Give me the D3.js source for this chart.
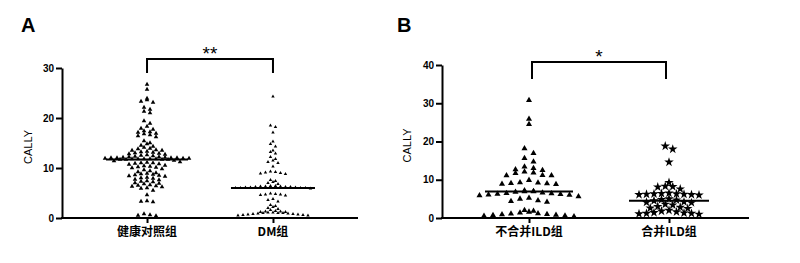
<!DOCTYPE html>
<html><head><meta charset="utf-8">
<script src="https://cdn.jsdelivr.net/npm/d3@7"></script>
<style>
html,body{margin:0;padding:0;background:#fff;}
svg{display:block;}
.tick text{font-family:Arial,"Liberation Sans",sans-serif;font-weight:bold;font-size:10px;fill:#000;}
</style></head>
<body><div id="chart"></div>
<script>
// ---- Data ----
const catsA = ["健康对照组", "DM组"];
const healthyVals = [26.7,25.7,23.9,23.6,23.3,23.1,22.1,21.7,21.3,21.0,19.4,18.9,18.3,17.9,17.7,17.4,17.2,17.1,16.9,16.8,16.6,16.4,16.2,15.4,15.0,14.8,14.5,14.3,14.1,13.9,13.8,13.6,13.5,13.5,13.3,13.2,13.1,13.0,12.9,12.8,12.7,12.6,12.5,12.4,12.3,12.2,12.2,12.1,12.1,12.0,12.0,12.0,12.0,11.9,11.9,11.9,11.8,11.8,11.8,11.8,11.8,11.7,11.7,11.7,11.7,11.5,11.4,11.2,11.1,11.0,11.0,10.9,10.8,10.7,10.5,10.4,10.3,10.2,10.1,10.0,9.8,9.6,9.4,9.2,9.0,8.9,8.8,8.7,8.6,8.5,8.4,8.3,8.1,8.0,7.9,7.7,7.6,7.4,7.3,7.2,7.0,6.9,6.8,6.6,6.5,6.4,6.3,6.2,6.0,5.9,5.5,4.6,3.4,3.3,3.2,0.8,0.6,0.5,0.4];
const dmVals = [24.3,18.5,18.2,17.1,15.3,14.8,14.3,13.5,13.2,12.9,12.2,11.8,11.5,11.2,11.0,10.3,9.3,9.2,9.1,9.0,8.9,8.8,7.6,7.4,7.2,7.0,6.8,6.4,6.4,6.3,6.3,6.3,6.2,6.2,6.2,6.1,6.1,6.1,6.0,6.0,6.0,6.0,5.9,4.9,4.8,4.7,4.7,4.6,4.5,3.8,3.6,3.3,2.6,2.4,2.2,2.0,1.8,1.6,1.4,1.3,1.3,1.2,1.2,1.1,1.1,1.0,1.0,1.0,0.9,0.9,0.8,0.8,0.7,0.7,0.6,0.6,0.5,0.5];
const mediansA = [11.7, 6.0];
const ticksA = [0, 10, 20, 30];
const sigA = "**";

const catsB = ["不合并ILD组", "合并ILD组"];
const noIldVals = [30.8,25.9,24.5,18.2,16.9,15.6,14.7,13.4,13.0,12.7,12.5,12.1,11.8,11.7,11.2,11.1,11.1,9.9,9.3,9.2,9.1,9.0,8.9,8.8,7.2,7.0,6.9,6.9,6.8,6.6,6.5,6.4,6.3,6.2,6.1,6.0,5.9,5.6,5.2,5.0,4.6,4.4,4.2,2.0,1.8,1.6,1.4,1.2,1.1,1.0,0.9,0.8,0.7,0.6,0.5,0.4];
const ildVals = [18.8,18.0,14.6,9.3,8.3,8.2,8.1,7.6,6.5,6.4,6.3,6.3,6.2,6.2,6.1,6.1,6.0,5.0,4.8,4.7,4.5,4.2,4.1,4.0,3.6,3.4,3.0,2.8,2.6,2.5,2.0,1.8,1.6,1.4,1.3,1.2,1.2,1.1,1.0];
const mediansB = [6.9, 4.5];
const ticksB = [0, 10, 20, 30, 40];
const sigB = "*";

// ---- Drawing ----
const W = 800, H = 263;
const svg = d3.select("#chart").append("svg").attr("width", W).attr("height", H);
const FONT = "Arial,'Liberation Sans',sans-serif";

function swarm(values, y, binPx, spacing) {
  const sorted = values.slice().sort((a, b) => a - b);
  const rows = []; let cur = null;
  for (const v of sorted) {
    const py = y(v);
    if (cur && cur.start - py < binPx) cur.items.push(v);
    else { cur = { start: py, items: [v] }; rows.push(cur); }
  }
  const out = [];
  rows.forEach(r => {
    const n = r.items.length;
    const offs = [];
    for (let i = 0; i < n; i++) offs.push((i - (n - 1) / 2) * spacing);
    offs.sort((a, b) => Math.abs(a) - Math.abs(b) || a - b);
    r.items.slice().sort((a,b)=>b-a).forEach((v, i) => out.push({ v, dx: offs[i] }));
  });
  return out;
}

function panel(cfg) {
  const g = svg.append("g");
  const x = d3.scalePoint().domain(cfg.cats).range(cfg.xr).padding(cfg.pad);
  const y = d3.scaleLinear().domain([0, cfg.ymax]).range([cfg.y0, cfg.y1]);

  const ya = g.append("g").attr("transform", `translate(${cfg.x0},0)`)
    .call(d3.axisLeft(y).tickValues(cfg.ticks).tickSize(6).tickPadding(2).tickSizeOuter(0));
  ya.select(".domain").attr("stroke", "#000").attr("stroke-width", 2);
  ya.selectAll(".tick line").attr("stroke", "#000").attr("stroke-width", 2);
  const xa = g.append("g").attr("transform", `translate(0,${cfg.y0})`)
    .call(d3.axisBottom(x).tickSize(5).tickSizeOuter(0).tickFormat(""));
  xa.select(".domain").attr("stroke", "#000").attr("stroke-width", 2).attr("d", `M${cfg.x0 - 1},0H${cfg.x1}`);
  xa.selectAll(".tick line").attr("stroke", "#000").attr("stroke-width", 2);

  g.selectAll(".cat").data(cfg.cats).enter().append("text")
    .attr("x", d => x(d)).attr("y", cfg.y0 + 18).attr("text-anchor", "middle")
    .attr("font-family", "'Noto Sans CJK SC',sans-serif").attr("font-weight", "bold")
    .attr("font-size", 12).text(d => d);

  g.append("text").attr("transform", `translate(${cfg.ylabX},${(cfg.y0 + cfg.y1) / 2 + 4}) rotate(-90)`)
    .attr("text-anchor", "middle").attr("font-family", FONT).attr("font-size", 11).text("CALLY");

  g.append("text").attr("x", cfg.letterX).attr("y", 32).attr("font-family", FONT)
    .attr("font-weight", "bold").attr("font-size", 20).text(cfg.letter);

  cfg.series.forEach((s, i) => {
    const pts = swarm(s.vals, y, s.bin, s.spacing);
    const sym = d3.symbol().type(s.type).size(s.size);
    g.append("g").selectAll("path").data(pts).enter().append("path")
      .attr("d", sym)
      .attr("transform", d => `translate(${x(cfg.cats[i]) + d.dx},${y(d.v)})`)
      .attr("fill", "#000");
    g.append("line").attr("x1", x(cfg.cats[i]) - s.mw).attr("x2", x(cfg.cats[i]) + s.mw)
      .attr("y1", y(cfg.medians[i])).attr("y2", y(cfg.medians[i]))
      .attr("stroke", "#000").attr("stroke-width", 2);
  });

  const bx1 = x(cfg.cats[0]) + cfg.bin, bx2 = x(cfg.cats[1]) - cfg.bin;
  g.append("path").attr("d", `M${bx1},${cfg.bBot}V${cfg.bTop}H${bx2}V${cfg.bBot}`)
    .attr("fill", "none").attr("stroke", "#000").attr("stroke-width", 2);
  g.append("text").attr("x", (bx1 + bx2) / 2).attr("y", cfg.bTop + 1).attr("text-anchor", "middle")
    .attr("font-family", FONT).attr("font-size", 19).text(cfg.sig);
}

panel({
  cats: catsA, x0: 62, x1: 358, xr: [62, 358], pad: 0.675, ymax: 30, y0: 218, y1: 68, ticks: ticksA,
  medians: mediansA, ylabX: 32, letter: "A", letterX: 21, sig: sigA,
  bTop: 59, bBot: 73, bin: 0,
  series: [
    { vals: healthyVals, type: d3.symbolTriangle, size: 9, bin: 3.5, spacing: 6, mw: 41 },
    { vals: dmVals, type: d3.symbolTriangle, size: 5, bin: 3, spacing: 5, mw: 42 }
  ]
});
panel({
  cats: catsB, x0: 442, x1: 749, xr: [445, 753], pad: 0.6, ymax: 40, y0: 218, y1: 65, ticks: ticksB,
  medians: mediansB, ylabX: 411, letter: "B", letterX: 397, sig: sigB,
  bTop: 62, bBot: 79, bin: 3,
  series: [
    { vals: noIldVals, type: d3.symbolTriangle, size: 16, bin: 5, spacing: 9, mw: 44 },
    { vals: ildVals, type: d3.symbolStar, size: 28, bin: 4.5, spacing: 7.5, mw: 40 }
  ]
});
</script></body></html>
